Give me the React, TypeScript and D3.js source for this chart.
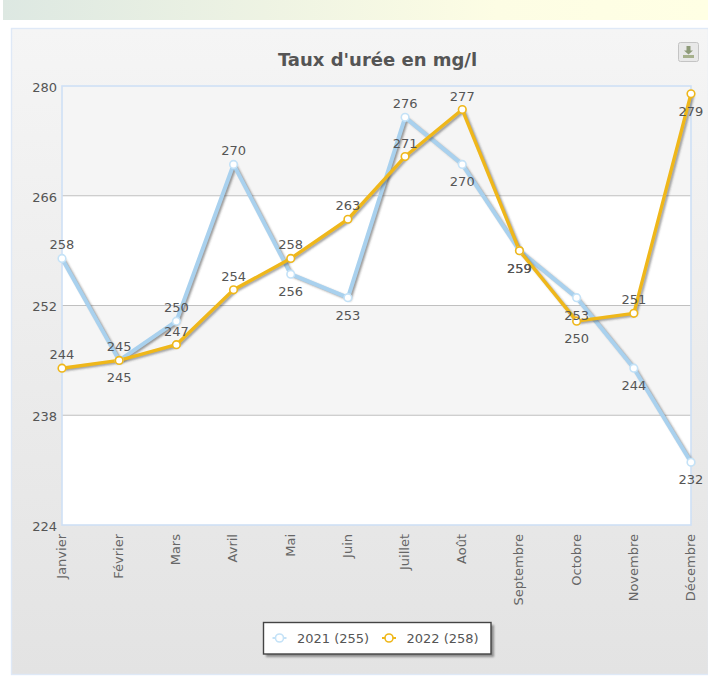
import React, { useEffect, useRef } from 'react';
import * as d3 from 'd3';

const months = ['Janvier', 'Février', 'Mars', 'Avril', 'Mai', 'Juin', 'Juillet', 'Août', 'Septembre', 'Octobre', 'Novembre', 'Décembre'];
const values2021 = [258, 245, 250, 270, 256, 253, 276, 270, 259, 253, 244, 232];
const values2022 = [244, 245, 247, 254, 258, 263, 271, 277, 259, 250, 251, 279];
// true = label sits under the point
const below2021 = [false, false, false, false, true, true, false, true, true, true, true, true];
const below2022 = [false, true, false, false, false, false, false, false, true, true, false, true];
const yTicks = [224, 238, 252, 266, 280];
const legendLabels = ['2021 (255)', '2022 (258)'];

const FONT = '"DejaVu Sans", Verdana, sans-serif';
const BLUE = '#a9d1ee';
const GOLD = '#efb71a';

const App: React.FC = () => {
  const svgRef = useRef<SVGSVGElement>(null);

  useEffect(() => {
    if (!svgRef.current) return;

    const svg = d3.select(svgRef.current);
    svg.selectAll('*').remove();

    const margin = { top: 86, left: 62, bottom: 525, right: 691 };

    const x = d3.scalePoint<string>().domain(months).range([margin.left, margin.right]);
    const y = d3.scaleLinear().domain([224, 280]).range([margin.bottom, margin.top]);

    const defs = svg.append('defs');

    const headerGrad = defs.append('linearGradient').attr('id', 'headerGrad');
    headerGrad.append('stop').attr('offset', '0%').attr('stop-color', '#dde8e2');
    headerGrad.append('stop').attr('offset', '70%').attr('stop-color', '#fdfde4');
    headerGrad.append('stop').attr('offset', '100%').attr('stop-color', '#ffffe4');

    const panelGrad = defs.append('linearGradient')
      .attr('id', 'panelGrad').attr('x1', 0).attr('x2', 0).attr('y1', 0).attr('y2', 1);
    panelGrad.append('stop').attr('offset', '0%').attr('stop-color', '#f5f5f5');
    panelGrad.append('stop').attr('offset', '100%').attr('stop-color', '#e3e3e3');

    const blur = defs.append('filter').attr('id', 'soft')
      .attr('x', '-10%').attr('y', '-10%').attr('width', '120%').attr('height', '120%');
    blur.append('feGaussianBlur').attr('stdDeviation', 0.9);

    // Header strip
    svg.append('rect').attr('x', 3).attr('y', 0).attr('width', 705).attr('height', 20)
      .attr('fill', 'url(#headerGrad)');
    svg.append('rect').attr('x', 0).attr('y', 14).attr('width', 3).attr('height', 6).attr('fill', '#fff');

    // Panel
    svg.append('rect').attr('x', 11.5).attr('y', 28.5).attr('width', 697).attr('height', 646)
      .attr('fill', 'url(#panelGrad)').attr('stroke', '#dfe9f7').attr('stroke-width', 1.4);

    // Plot bands
    d3.pairs(yTicks).forEach(([lo, hi], i) => {
      svg.append('rect')
        .attr('x', margin.left).attr('width', margin.right - margin.left)
        .attr('y', y(hi)).attr('height', y(lo) - y(hi))
        .attr('fill', i % 2 === 0 ? '#ffffff' : '#f5f5f5');
    });

    // Grid lines
    yTicks.slice(1, -1).forEach(t => {
      svg.append('line')
        .attr('x1', margin.left).attr('x2', margin.right)
        .attr('y1', y(t)).attr('y2', y(t))
        .attr('stroke', '#c0c0c0').attr('stroke-width', 1.2);
    });

    // Plot border
    svg.append('rect')
      .attr('x', margin.left).attr('y', margin.top)
      .attr('width', margin.right - margin.left).attr('height', margin.bottom - margin.top)
      .attr('fill', 'none').attr('stroke', '#cfe0f6').attr('stroke-width', 1.6);

    // Y axis
    const yAxis = svg.append('g')
      .attr('transform', `translate(${margin.left},0)`)
      .call(d3.axisLeft(y).tickValues(yTicks).tickSize(0).tickPadding(5));
    yAxis.select('.domain').remove();
    yAxis.selectAll('text')
      .attr('dy', '0.42em')
      .style('font-family', FONT).style('font-size', '13px').style('fill', '#555');

    // X axis
    const xAxis = svg.append('g')
      .attr('transform', `translate(0,${margin.bottom})`)
      .call(d3.axisBottom(x).tickSize(0));
    xAxis.select('.domain').remove();
    xAxis.selectAll('text')
      .attr('transform', 'rotate(-90)')
      .attr('x', -9).attr('y', 0).attr('dy', '0.26em')
      .style('text-anchor', 'end')
      .style('font-family', FONT).style('font-size', '13px').style('fill', '#666');

    // Series
    const line = d3.line<number>()
      .x((_, i) => x(months[i]) as number)
      .y(d => y(d));

    const series = [
      { values: values2021, below: below2021, color: BLUE, marker: '#c4e2f7', width: 4 },
      { values: values2022, below: below2022, color: GOLD, marker: GOLD, width: 3.4 },
    ];

    series.forEach(s => {
      svg.append('path')
        .attr('d', line(s.values))
        .attr('transform', 'translate(2,1.5)')
        .attr('fill', 'none').attr('stroke', '#444').attr('stroke-opacity', 0.6)
        .attr('stroke-width', s.width - 1).attr('filter', 'url(#soft)');
      svg.append('path')
        .attr('d', line(s.values))
        .attr('fill', 'none').attr('stroke', s.color)
        .attr('stroke-width', s.width).attr('stroke-linejoin', 'round');
    });

    series.forEach(s => {
      svg.append('g').selectAll('circle')
        .data(s.values)
        .enter().append('circle')
        .attr('cx', (_, i) => x(months[i]) as number)
        .attr('cy', d => y(d))
        .attr('r', 3.8)
        .attr('fill', '#fff').attr('stroke', s.marker).attr('stroke-width', 1.6);
    });

    // Value labels
    series.forEach(s => {
      svg.append('g').selectAll('text')
        .data(s.values)
        .enter().append('text')
        .attr('x', (_, i) => x(months[i]) as number)
        .attr('y', (d, i) => y(d) + (s.below[i] ? 22 : -9))
        .attr('text-anchor', 'middle')
        .style('font-family', FONT).style('font-size', '13px').style('fill', '#555')
        .text(d => d);
    });

    // Title
    svg.append('text')
      .attr('x', 377.5).attr('y', 66)
      .attr('text-anchor', 'middle')
      .style('font-family', FONT).style('font-size', '18px').style('font-weight', 'bold')
      .style('fill', '#555')
      .text("Taux d'urée en mg/l");

    // Download button
    const btn = svg.append('g').attr('transform', 'translate(678,42)');
    btn.append('rect').attr('x', 0.5).attr('y', 0.5).attr('width', 20).attr('height', 19).attr('rx', 2)
      .attr('fill', '#e8e8e8').attr('stroke', '#c4c4c4');
    btn.append('path').attr('d', 'M8.5,4H12.5V8.5H15L10.5,12.5L6,8.5H8.5Z').attr('fill', '#8d9a78');
    btn.append('rect').attr('x', 5).attr('y', 13).attr('width', 11).attr('height', 3).attr('fill', '#a6b08c');

    // Legend
    svg.append('rect').attr('x', 266).attr('y', 625).attr('width', 228).attr('height', 32)
      .attr('fill', '#555').attr('opacity', 0.6).attr('filter', 'url(#soft)');
    svg.append('rect').attr('x', 263.5).attr('y', 622.5).attr('width', 227.5).attr('height', 31.5)
      .attr('fill', '#fff').attr('stroke', '#444').attr('stroke-width', 1.4);

    const legendX = [279.5, 389];
    legendLabels.forEach((label, i) => {
      const color = i === 0 ? '#c4e2f7' : GOLD;
      const g = svg.append('g').attr('transform', `translate(${legendX[i]},638)`);
      g.append('line').attr('x1', -7).attr('x2', 7).attr('stroke', color).attr('stroke-width', 2);
      g.append('circle').attr('r', 4).attr('fill', '#fff').attr('stroke', color).attr('stroke-width', 1.6);
      g.append('text').attr('x', 17.5).attr('y', 5)
        .style('font-family', FONT).style('font-size', '13px').style('fill', '#555')
        .text(label);
    });
  }, []);

  return (
    <svg
      ref={svgRef}
      width={708}
      height={678}
      style={{ position: 'absolute', left: 0, top: 0, background: '#fff' }}
    />
  );
};

export default App;
